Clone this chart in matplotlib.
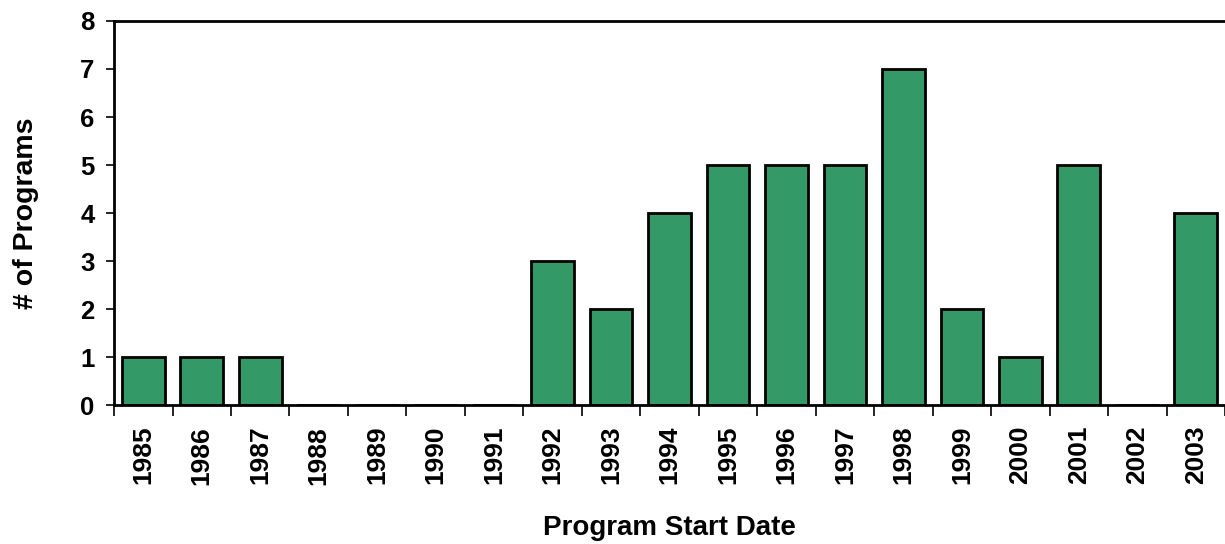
import matplotlib.pyplot as plt
import numpy as np

years = [str(y) for y in range(1985, 2004)]
programs = [1, 1, 1, 0, 0, 0, 0, 3, 2, 4, 5, 5, 5, 7, 2, 1, 5, 0, 4]

plt.rcParams['font.family'] = ['Liberation Sans', 'DejaVu Sans']
plt.rcParams['font.weight'] = 'bold'

fig = plt.figure(figsize=(12.25, 5.44), dpi=100)
ax = fig.add_axes([0.0931, 0.2555, 0.9069, 0.7059])

x = np.arange(len(years))
ax.bar(x, programs, width=0.73, color="#339966", edgecolor="black", linewidth=2)

ax.set_xlim(-0.5, len(years) - 0.5)
ax.set_ylim(0, 8)
ax.set_yticks(range(0, 9))
ax.tick_params(axis='y', labelsize=18.5, length=6, width=1.2, pad=8)

ax.set_xticks(x)
ax.set_xticklabels(years, rotation=90, fontsize=19)
ax.tick_params(axis='x', which='major', length=0, pad=15)
ax.set_xticks(np.arange(-0.5, len(years), 1), minor=True)
ax.tick_params(axis='x', which='minor', length=8, width=1.2)

for s in ['left', 'bottom', 'top']:
    ax.spines[s].set_linewidth(2)
ax.spines['right'].set_visible(False)

ax.set_xlabel("Program Start Date", fontsize=20, fontweight='bold', labelpad=22)
ax.set_ylabel("# of Programs", fontsize=20.5, fontweight='bold', labelpad=30)

fig.savefig("out.png", dpi=100)
